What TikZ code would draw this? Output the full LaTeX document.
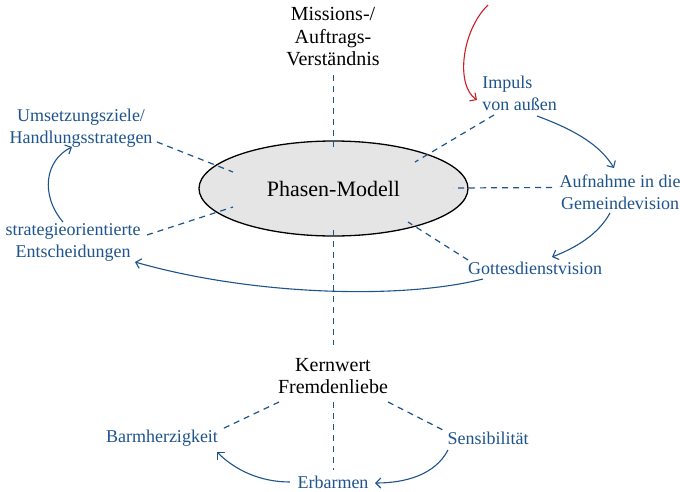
\documentclass[tikz,border=0pt]{standalone}
\usepackage{fontspec}
\setmainfont{Liberation Serif}
\usetikzlibrary{shapes.geometric,arrows.meta}
\definecolor{bl}{RGB}{30,84,140}
\definecolor{rd}{RGB}{205,30,40}
\definecolor{ellfill}{RGB}{229,229,229}
\tikzset{
  lbl/.style={text=bl, font=\fontsize{18}{22}\selectfont, align=center, inner sep=1pt},
  blk/.style={text=black, font=\fontsize{20}{22.5}\selectfont, align=center, inner sep=1pt},
  dsh/.style={draw=bl, line width=1.2pt, dash pattern=on 6pt off 5pt},
  arr/.style={draw=bl, line width=1.1pt, -{Straight Barb[length=5pt,width=10pt]}},
  redarr/.style={draw=rd, line width=1.1pt, -{Straight Barb[length=5pt,width=10pt]}},
}
\begin{document}
\begin{tikzpicture}[x=1pt,y=-1pt]
\useasboundingbox[fill=white] (0,0) rectangle (680,491);
% ellipse
\node[ellipse, draw, line width=1.3pt, fill=ellfill, minimum width=269, minimum height=95, inner sep=0pt,
      font=\fontsize{22}{26}\selectfont] (ell) at (333.5,188.5) {Phasen-Modell};
% labels
\node[blk] (mis) at (333,37) {Missions-/\\Auftrags-\\Verständnis};
\node[blk] (ker) at (333,376) {Kernwert\\Fremdenliebe};
\node[lbl, align=left] (imp) at (519.5,93) {Impuls\\von außen};
\node[lbl] (auf) at (620,192) {Aufnahme in die\\Gemeindevision};
\node[lbl] (got) at (535,268) {Gottesdienstvision};
\node[lbl] (ums) at (81,128) {Umsetzungsziele/\\Handlungsstrategen};
\node[lbl] (str) at (73,242) {strategieorientierte\\Entscheidungen};
\node[lbl] (bar) at (162,438) {Barmherzigkeit};
\node[lbl] (sen) at (488,438) {Sensibilität};
\node[lbl] (erb) at (333,482) {Erbarmen};
\coordinate (redtop) at (488,5);
% dashed connectors
\draw[dsh] ([shift={(76,14)}]ums.center) -- ([shift={(-100.5,-16.5)}]ell.center);
\draw[dsh] ([shift={(74,-7)}]str.center) -- ([shift={(-100.5,18.5)}]ell.center);
\draw[dsh] ([shift={(-25.5,22)}]imp.center) -- ([shift={(81.5,-26.5)}]ell.center);
\draw[dsh] ([shift={(-68,-4.5)}]auf.center) -- ([shift={(119.5,-0.5)}]ell.center);
\draw[dsh] ([shift={(-67,-8)}]got.center) -- ([shift={(74.5,33.5)}]ell.center);
\draw[dsh] ([shift={(0.5,38)}]mis.center) -- ([shift={(0,-41.5)}]ell.center);
\draw[dsh] ([shift={(0,41.5)}]ell.center) -- ([shift={(0.5,-31)}]ker.center);
\draw[dsh] ([shift={(-54,26)}]ker.center) -- ([shift={(58,-8)}]bar.center);
\draw[dsh] ([shift={(0.5,26)}]ker.center) -- ([shift={(0.5,-12)}]erb.center);
\draw[dsh] ([shift={(55,26)}]ker.center) -- ([shift={(-45,-8)}]sen.center);
% arrows
\draw[redarr] (redtop) .. controls +(-26,25) and +(-22,-15) .. ([shift={(-42.5,7)}]imp.center);
\draw[arr] ([shift={(17.5,23)}]imp.center) .. controls +(38,14) and +(-14,-23) .. ([shift={(-6,-24)}]auf.center);
\draw[arr] ([shift={(-10,21)}]auf.center) .. controls +(-12,22) and +(23,-9) .. ([shift={(17,-11)}]got.center);
\draw[arr] ([shift={(-52,11)}]got.center) .. controls +(-83,21) and +(115,33) .. ([shift={(62,20)}]str.center);
\draw[arr] ([shift={(-10,-20)}]str.center) .. controls +(-23,-27) and +(-27,13) .. ([shift={(-9,19)}]ums.center);
\draw[arr] ([shift={(-43,0)}]erb.center) .. controls +(-30,0) and +(18,18) .. ([shift={(55,14)}]bar.center);
\draw[arr] ([shift={(-40,12)}]sen.center) .. controls +(-13,25) and +(30,0) .. ([shift={(42,1)}]erb.center);
\end{tikzpicture}
\end{document}
